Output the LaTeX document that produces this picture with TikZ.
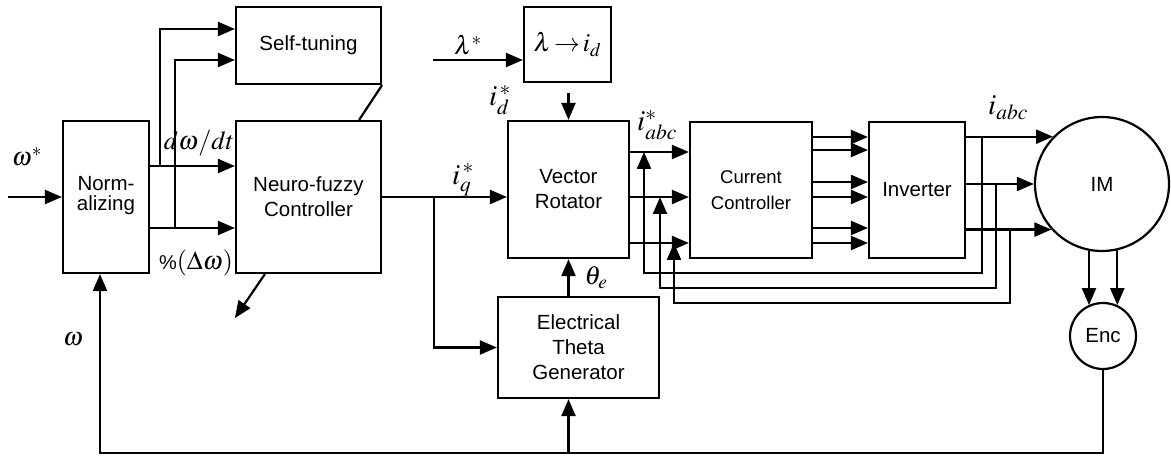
\documentclass[tikz,border=0pt]{standalone}
\usepackage{mathptmx}
\usepackage{fontspec}
\setsansfont{Liberation Sans}
\usetikzlibrary{arrows.meta,calc}
\begin{document}
\begin{tikzpicture}[x=1pt,y=-1pt,line width=2.2pt,
  arr/.style={-{Triangle[length=17pt,width=14pt]}},
  blk/.style={draw,rectangle,inner sep=0pt,align=center,font=\sffamily\fontsize{20.5}{25}\selectfont},
  lbl/.style={inner sep=0pt,font=\fontsize{26}{30}\selectfont},
  ilbl/.style={inner sep=0pt,font=\fontsize{29}{32}\selectfont}]
\path[use as bounding box,fill=white] (0,0) rectangle (1171,457);
% blocks
\node[blk,minimum width=86pt,minimum height=152pt,font=\sffamily\fontsize{20.5}{20}\selectfont] (norm) at (106,197) {\\[-8pt]Norm-\\alizing};
\node[blk,minimum width=145pt,minimum height=77pt] (st) at (308.5,45.5) {Self-tuning};
\node[blk,minimum width=145pt,minimum height=152pt] (nf) at (308.5,197) {Neuro-fuzzy\\Controller};
\node[blk,minimum width=87pt,minimum height=75pt,font=\fontsize{26}{30}\selectfont] (lam) at (567.5,44.5) {$\lambda\!\rightarrow\! i_d$};
\node[blk,minimum width=121pt,minimum height=137pt] (vr) at (568.5,189.5) {Vector\\Rotator};
\node[blk,minimum width=161pt,minimum height=101pt] (etg) at (578.5,347.5) {Electrical\\Theta\\Generator};
\node[blk,minimum width=122pt,minimum height=136pt,font=\sffamily\fontsize{18.5}{26}\selectfont] (cc) at (751,190) {Current\\Controller};
\node[blk,minimum width=96pt,minimum height=136pt] (inv) at (917,190) {Inverter};
\node[blk,circle,minimum size=134pt] (im) at (1102,184) {IM};
\node[blk,circle,minimum size=66pt] (enc) at (1103,336) {Enc};
% helper coordinates
\coordinate (in0) at (8,197);
\coordinate (ya) at (0,166);
\coordinate (yb) at (0,228);
\coordinate (b1) at (160,166);
\coordinate (b2) at (175,228);
\coordinate (s1) at (0,29);
\coordinate (s2) at (0,60);
\coordinate (bq) at (434,197);
\coordinate (lamin) at (433,60);
\coordinate (lamout) at ($(vr.north |- lam.south)+(0,10)$);
\coordinate (r1) at (0,152);
\coordinate (r2) at (0,197);
\coordinate (r3) at (0,243);
\coordinate (f1) at (982,0);
\coordinate (f2) at (996,0);
\coordinate (f3) at (1010,0);
\coordinate (g1) at (644,273);
\coordinate (g2) at (660,288);
\coordinate (g3) at (674,303);
\coordinate (fb) at (100,453);
\coordinate (fbe) at (vr.south |- fb);
% connectors
\draw[arr] (in0) -- (norm.west);
\draw[arr] (norm.east |- ya) -- (nf.west |- ya);
\draw[arr] (norm.east |- yb) -- (nf.west |- yb);
\draw[arr] (b1) |- (st.west |- s1);
\draw[arr] (b2) |- (st.west |- s2);
\draw (st.south east) -- ($(nf.north east)+(-23,0)$);
\draw[arr] ($(nf.south west)+(30,0)$) -- ++(-30,44);
\draw[arr] (nf.east) -- (vr.west |- nf.east);
\draw[arr] (bq) |- (etg.west);
\draw[arr] (lamin) -- (lam.west |- lamin);
\draw[arr] (lamout) -- (vr.north);
\draw[arr] (vr.east |- r1) -- (cc.west |- r1);
\draw[arr] (vr.east |- r2) -- (cc.west |- r2);
\draw[arr] (vr.east |- r3) -- (cc.west |- r3);
\foreach \yy in {137,150,182,197,228,243}{
  \coordinate (t) at (0,\yy);
  \draw[arr] (cc.east |- t) -- (inv.west |- t);
}
\draw[arr] (inv.east |- im.136) -- (im.136);
\draw[arr] (inv.east |- im.west) -- (im.west);
\draw[arr] (inv.east |- im.222) -- (im.222);
\draw[arr] (f1 |- im.136) |- (g1) -- (g1 |- r1);
\draw[arr] (f2 |- im.west) |- (g2) -- (g2 |- r2);
\draw[arr] (f3 |- im.222) |- (g3) -- (g3 |- r3);
\draw[arr] (im.259) -- (im.259 |- enc.115);
\draw[arr] (im.283) -- (im.283 |- enc.65);
\draw[arr] (enc.south) |- (fb) -- (norm.south -| fb);
\draw[arr] (fbe) -- (etg.south -| fbe);
\draw[arr] (etg.north -| vr.south) -- (vr.south);
% labels
\node[lbl] (lws) at (27,157) {$\omega^{*}$};
\node[lbl] (ldw) at (199,143) {$d\omega/dt$};
\node[lbl] (lpc) at (196,263) {{\sffamily\fontsize{20}{24}\selectfont\%}$(\Delta\omega)$};
\node[lbl] (lw) at (73,339) {$\omega$};
\node[ilbl] (liq) at (463,180) {$i_q^{\,*}$};
\node[lbl] (llam) at (468,45) {$\lambda^{*}$};
\node[ilbl] (lid) at (500,100) {$i_d^{\,*}$};
\node[ilbl] (liabcs) at (657,125) {$i^{*}_{abc}$};
\node[lbl] (lth) at (596,278) {$\theta_e$};
\node[ilbl] (liabc) at (1008,108) {$i_{abc}$};
\end{tikzpicture}
\end{document}
